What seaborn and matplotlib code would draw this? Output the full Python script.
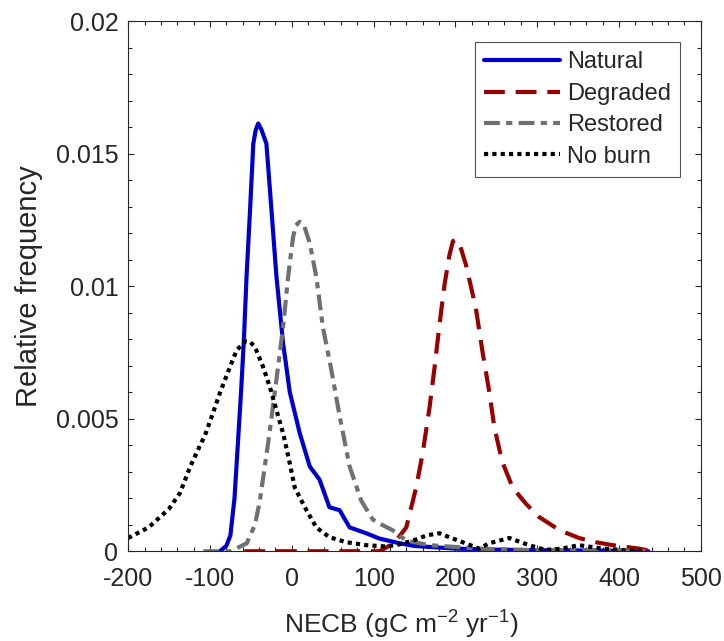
import numpy as np
import pandas as pd
import matplotlib
matplotlib.use("Agg")
import matplotlib.pyplot as plt
import matplotlib.ticker as mticker
import seaborn as sns

# ---- data ----
natural_x = [-88, -80, -75, -70, -66, -62, -58.5, -55.3, -51, -47, -44, -41, -37, -31, -24.8, -18.7, -10.6, -2.4, 9.8, 22, 34, 46, 58.5, 70.7, 91, 107, 132, 150, 200, 250, 300, 350, 400, 436]
natural_y = [0.0, 0.0002, 0.0006, 0.0020, 0.0040, 0.0060, 0.0080, 0.01035, 0.01287, 0.01538, 0.0159, 0.01614, 0.0159, 0.01538, 0.01287, 0.01035, 0.00785, 0.0060, 0.00445, 0.0032, 0.0027, 0.00166, 0.00155, 0.0009, 0.00068, 0.00048, 0.0003, 0.0002, 0.0001, 0.00006, 0.00004, 0.00003, 0.00002, 0.0]

degraded_x = [-58, 0, 50, 107, 125, 140, 152, 160, 168.3, 174.4, 180.5, 186.6, 192.7, 197, 200.8, 206, 213, 225, 233.3, 241.5, 247.5, 257, 270, 286, 302, 327, 351, 372, 392, 424, 440]
degraded_y = [0.0, 0.0, 0.0, 0.0, 0.0003, 0.0009, 0.0024, 0.0037, 0.0054, 0.0069, 0.00853, 0.01004, 0.01117, 0.0117, 0.01177, 0.0115, 0.0108, 0.00917, 0.0075, 0.0060, 0.0047, 0.0034, 0.0024, 0.0018, 0.0013, 0.0008, 0.0005, 0.00034, 0.00023, 0.0001, 0.0]

restored_x = [-108, -75, -55, -45, -39, -27, -17, -10.6, -4.5, 1.6, 5, 9.8, 15, 22, 30, 38, 48, 58.5, 70.7, 85, 99, 107, 123, 140, 168, 229, 280, 340, 400, 436]
restored_y = [0.0, 0.0, 0.0003, 0.0010, 0.0019, 0.0045, 0.0069, 0.00846, 0.01035, 0.01186, 0.0123, 0.01243, 0.0123, 0.01162, 0.01035, 0.00846, 0.0069, 0.0051, 0.0032, 0.0019, 0.0012, 0.00105, 0.0008, 0.0004, 0.00023, 0.0001, 0.00005, 0.00004, 0.00003, 0.0]

noburn_x = [-200, -175, -150, -136.6, -124, -112, -106, -98, -88, -75.6, -67.5, -57, -51, -45, -35, -26.8, -18.7, -10.6, -3, 3.7, 16, 30, 46, 66.7, 91, 115, 130, 148, 165, 180.5, 195, 209, 229, 241, 266, 290, 310, 330, 351, 380, 410, 432]
noburn_y = [0.0005, 0.0009, 0.0016, 0.0022, 0.0032, 0.0040, 0.00438, 0.00507, 0.00596, 0.00695, 0.00758, 0.00792, 0.0079, 0.00771, 0.00695, 0.0062, 0.00532, 0.00445, 0.0034, 0.0024, 0.00166, 0.0009, 0.00053, 0.00034, 0.00023, 0.00018, 0.00025, 0.0004, 0.0006, 0.00068, 0.0005, 0.00034, 0.0001, 0.0003, 0.0005, 0.00023, 0.00005, 0.0001, 0.00023, 0.0001, 0.00003, 0.0]

series_names = ["Natural", "Degraded", "Restored", "No burn"]
x_ticks = [-200, -100, 0, 100, 200, 300, 400, 500]
y_ticks = [0, 0.005, 0.01, 0.015, 0.02]

frames = []
for name, xs, ys in zip(series_names,
                        [natural_x, degraded_x, restored_x, noburn_x],
                        [natural_y, degraded_y, restored_y, noburn_y]):
    frames.append(pd.DataFrame({"NECB": xs, "freq": ys, "series": name}))
df = pd.concat(frames, ignore_index=True)

# ---- styling ----
sns.set_style("ticks")
plt.rcParams["font.family"] = ["Liberation Sans", "DejaVu Sans"]
plt.rcParams["mathtext.default"] = "regular"
plt.rcParams["axes.unicode_minus"] = False
txt = "#262626"

colors = {"Natural": "#0000CC", "Degraded": "#990000", "Restored": "#707070", "No burn": "#000000"}
dashes = {"Natural": "", "Degraded": (5.0, 2.6), "Restored": (3.8, 1.5, 1.5, 1.5), "No burn": (1.0, 1.0)}

fig = plt.figure(figsize=(7.24, 6.41), dpi=100)
ax = fig.add_axes([0.177, 0.140, 0.791, 0.827])

sns.lineplot(data=df, x="NECB", y="freq", hue="series", style="series",
             palette=colors, dashes=dashes, hue_order=series_names,
             style_order=series_names, linewidth=3.0, sort=False,
             estimator=None, ax=ax, legend="full")

ax.set_xlim(-200, 500)
ax.set_ylim(0, 0.02)
ax.set_xticks(x_ticks)
ax.set_xticklabels(["%d" % v for v in x_ticks])
ax.set_yticks(y_ticks)
ax.set_yticklabels(["%g" % v for v in y_ticks])
ax.xaxis.set_minor_locator(mticker.MultipleLocator(20))
ax.yaxis.set_minor_locator(mticker.MultipleLocator(0.001))
ax.tick_params(which="both", direction="in", top=True, right=True,
               colors=txt, labelsize=18, width=0.8)
ax.tick_params(which="major", length=4)
ax.tick_params(which="minor", length=3)
for s in ax.spines.values():
    s.set_color(txt)
    s.set_linewidth(0.8)
ax.tick_params(axis="x", pad=11)
ax.tick_params(axis="y", pad=7)

ax.set_xlabel("NECB (gC m$^{-2}$ yr$^{-1}$)", fontsize=19, color=txt)
ax.xaxis.set_label_coords(0.478, -0.108)
ax.set_ylabel("Relative frequency", fontsize=21, color=txt, labelpad=9)

leg = ax.legend(loc="upper right", fontsize=17, frameon=True, fancybox=False,
                edgecolor=txt, handlelength=3.2, handletextpad=0.3,
                borderpad=0.4, labelspacing=0.4, bbox_to_anchor=(0.985, 0.983))
leg.get_frame().set_linewidth(0.8)
for t in leg.get_texts():
    t.set_color(txt)

fig.savefig("out.png", dpi=100)
